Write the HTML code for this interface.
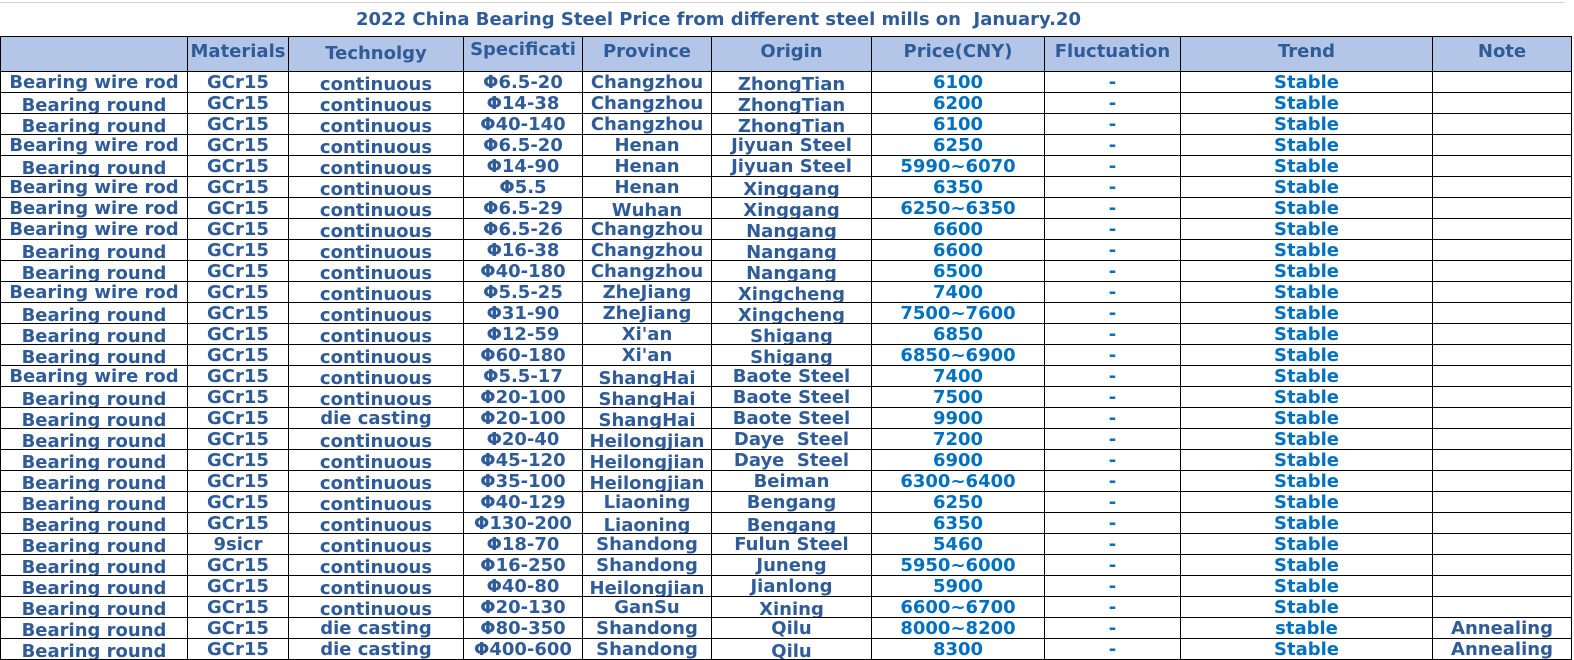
<!DOCTYPE html>
<html><head><meta charset="utf-8"><style>
html,body{margin:0;padding:0;background:#fff;width:1574px;height:660px;overflow:hidden}
body{font-family:"DejaVu Sans","Liberation Sans",sans-serif;font-weight:bold;color:#2f5c98}
.title{position:absolute;left:0;top:2px;width:1565px;height:34px;border-top:1px solid #d4d4d4;font-size:18px;line-height:34px}
.title span{position:absolute;left:356px;top:0}
table{position:absolute;left:0;top:36px;border-collapse:collapse;table-layout:fixed}
td{border:1.5px solid #000;padding:0;text-align:center;font-size:18px;white-space:nowrap;overflow:hidden}
tr.h td{background:#b4c6e7;height:21px;vertical-align:top;line-height:30px}
tr.r td{height:20.03px}
td div{height:20px;overflow:hidden;line-height:22px}
td.p,td.t{color:#0070c0}
td.low div{line-height:25px}
</style></head><body>
<div class="title"><span>2022 China Bearing Steel Price from different steel mills on &nbsp;January.20</span></div>
<table>
<colgroup><col style="width:187px"><col style="width:101px"><col style="width:175px"><col style="width:119px"><col style="width:129px"><col style="width:160px"><col style="width:173px"><col style="width:136px"><col style="width:252px"><col style="width:139px"></colgroup>
<tr class="h"><td></td><td>Materials</td><td style="line-height:34px">Technolgy</td><td style="line-height:26px">Specificati</td><td>Province</td><td>Origin</td><td>Price(CNY)</td><td>Fluctuation</td><td>Trend</td><td>Note</td></tr>
<tr class="r"><td><div>Bearing wire rod</div></td><td><div>GCr15</div></td><td class="low"><div>continuous</div></td><td><div>Φ6.5-20</div></td><td><div>Changzhou</div></td><td class="low"><div>ZhongTian</div></td><td class="p"><div>6100</div></td><td class="p"><div>-</div></td><td class="t"><div>Stable</div></td><td></td></tr>
<tr class="r"><td class="low"><div>Bearing round</div></td><td><div>GCr15</div></td><td class="low"><div>continuous</div></td><td><div>Φ14-38</div></td><td><div>Changzhou</div></td><td class="low"><div>ZhongTian</div></td><td class="p"><div>6200</div></td><td class="p"><div>-</div></td><td class="t"><div>Stable</div></td><td></td></tr>
<tr class="r"><td class="low"><div>Bearing round</div></td><td><div>GCr15</div></td><td class="low"><div>continuous</div></td><td><div>Φ40-140</div></td><td><div>Changzhou</div></td><td class="low"><div>ZhongTian</div></td><td class="p"><div>6100</div></td><td class="p"><div>-</div></td><td class="t"><div>Stable</div></td><td></td></tr>
<tr class="r"><td><div>Bearing wire rod</div></td><td><div>GCr15</div></td><td class="low"><div>continuous</div></td><td><div>Φ6.5-20</div></td><td><div>Henan</div></td><td><div>Jiyuan Steel</div></td><td class="p"><div>6250</div></td><td class="p"><div>-</div></td><td class="t"><div>Stable</div></td><td></td></tr>
<tr class="r"><td class="low"><div>Bearing round</div></td><td><div>GCr15</div></td><td class="low"><div>continuous</div></td><td><div>Φ14-90</div></td><td><div>Henan</div></td><td><div>Jiyuan Steel</div></td><td class="p"><div>5990~6070</div></td><td class="p"><div>-</div></td><td class="t"><div>Stable</div></td><td></td></tr>
<tr class="r"><td><div>Bearing wire rod</div></td><td><div>GCr15</div></td><td class="low"><div>continuous</div></td><td><div>Φ5.5</div></td><td><div>Henan</div></td><td class="low"><div>Xinggang</div></td><td class="p"><div>6350</div></td><td class="p"><div>-</div></td><td class="t"><div>Stable</div></td><td></td></tr>
<tr class="r"><td><div>Bearing wire rod</div></td><td><div>GCr15</div></td><td class="low"><div>continuous</div></td><td><div>Φ6.5-29</div></td><td class="low"><div>Wuhan</div></td><td class="low"><div>Xinggang</div></td><td class="p"><div>6250~6350</div></td><td class="p"><div>-</div></td><td class="t"><div>Stable</div></td><td></td></tr>
<tr class="r"><td><div>Bearing wire rod</div></td><td><div>GCr15</div></td><td class="low"><div>continuous</div></td><td><div>Φ6.5-26</div></td><td><div>Changzhou</div></td><td class="low"><div>Nangang</div></td><td class="p"><div>6600</div></td><td class="p"><div>-</div></td><td class="t"><div>Stable</div></td><td></td></tr>
<tr class="r"><td class="low"><div>Bearing round</div></td><td><div>GCr15</div></td><td class="low"><div>continuous</div></td><td><div>Φ16-38</div></td><td><div>Changzhou</div></td><td class="low"><div>Nangang</div></td><td class="p"><div>6600</div></td><td class="p"><div>-</div></td><td class="t"><div>Stable</div></td><td></td></tr>
<tr class="r"><td class="low"><div>Bearing round</div></td><td><div>GCr15</div></td><td class="low"><div>continuous</div></td><td><div>Φ40-180</div></td><td><div>Changzhou</div></td><td class="low"><div>Nangang</div></td><td class="p"><div>6500</div></td><td class="p"><div>-</div></td><td class="t"><div>Stable</div></td><td></td></tr>
<tr class="r"><td><div>Bearing wire rod</div></td><td><div>GCr15</div></td><td class="low"><div>continuous</div></td><td><div>Φ5.5-25</div></td><td><div>ZheJiang</div></td><td class="low"><div>Xingcheng</div></td><td class="p"><div>7400</div></td><td class="p"><div>-</div></td><td class="t"><div>Stable</div></td><td></td></tr>
<tr class="r"><td class="low"><div>Bearing round</div></td><td><div>GCr15</div></td><td class="low"><div>continuous</div></td><td><div>Φ31-90</div></td><td><div>ZheJiang</div></td><td class="low"><div>Xingcheng</div></td><td class="p"><div>7500~7600</div></td><td class="p"><div>-</div></td><td class="t"><div>Stable</div></td><td></td></tr>
<tr class="r"><td class="low"><div>Bearing round</div></td><td><div>GCr15</div></td><td class="low"><div>continuous</div></td><td><div>Φ12-59</div></td><td><div>Xi'an</div></td><td class="low"><div>Shigang</div></td><td class="p"><div>6850</div></td><td class="p"><div>-</div></td><td class="t"><div>Stable</div></td><td></td></tr>
<tr class="r"><td class="low"><div>Bearing round</div></td><td><div>GCr15</div></td><td class="low"><div>continuous</div></td><td><div>Φ60-180</div></td><td><div>Xi'an</div></td><td class="low"><div>Shigang</div></td><td class="p"><div>6850~6900</div></td><td class="p"><div>-</div></td><td class="t"><div>Stable</div></td><td></td></tr>
<tr class="r"><td><div>Bearing wire rod</div></td><td><div>GCr15</div></td><td class="low"><div>continuous</div></td><td><div>Φ5.5-17</div></td><td class="low"><div>ShangHai</div></td><td><div>Baote Steel</div></td><td class="p"><div>7400</div></td><td class="p"><div>-</div></td><td class="t"><div>Stable</div></td><td></td></tr>
<tr class="r"><td class="low"><div>Bearing round</div></td><td><div>GCr15</div></td><td class="low"><div>continuous</div></td><td><div>Φ20-100</div></td><td class="low"><div>ShangHai</div></td><td><div>Baote Steel</div></td><td class="p"><div>7500</div></td><td class="p"><div>-</div></td><td class="t"><div>Stable</div></td><td></td></tr>
<tr class="r"><td class="low"><div>Bearing round</div></td><td><div>GCr15</div></td><td><div>die casting</div></td><td><div>Φ20-100</div></td><td class="low"><div>ShangHai</div></td><td><div>Baote Steel</div></td><td class="p"><div>9900</div></td><td class="p"><div>-</div></td><td class="t"><div>Stable</div></td><td></td></tr>
<tr class="r"><td class="low"><div>Bearing round</div></td><td><div>GCr15</div></td><td class="low"><div>continuous</div></td><td><div>Φ20-40</div></td><td class="low"><div>Heilongjian</div></td><td><div>Daye &nbsp;Steel</div></td><td class="p"><div>7200</div></td><td class="p"><div>-</div></td><td class="t"><div>Stable</div></td><td></td></tr>
<tr class="r"><td class="low"><div>Bearing round</div></td><td><div>GCr15</div></td><td class="low"><div>continuous</div></td><td><div>Φ45-120</div></td><td class="low"><div>Heilongjian</div></td><td><div>Daye &nbsp;Steel</div></td><td class="p"><div>6900</div></td><td class="p"><div>-</div></td><td class="t"><div>Stable</div></td><td></td></tr>
<tr class="r"><td class="low"><div>Bearing round</div></td><td><div>GCr15</div></td><td class="low"><div>continuous</div></td><td><div>Φ35-100</div></td><td class="low"><div>Heilongjian</div></td><td><div>Beiman</div></td><td class="p"><div>6300~6400</div></td><td class="p"><div>-</div></td><td class="t"><div>Stable</div></td><td></td></tr>
<tr class="r"><td class="low"><div>Bearing round</div></td><td><div>GCr15</div></td><td class="low"><div>continuous</div></td><td><div>Φ40-129</div></td><td><div>Liaoning</div></td><td><div>Bengang</div></td><td class="p"><div>6250</div></td><td class="p"><div>-</div></td><td class="t"><div>Stable</div></td><td></td></tr>
<tr class="r"><td class="low"><div>Bearing round</div></td><td><div>GCr15</div></td><td class="low"><div>continuous</div></td><td><div>Φ130-200</div></td><td class="low"><div>Liaoning</div></td><td class="low"><div>Bengang</div></td><td class="p"><div>6350</div></td><td class="p"><div>-</div></td><td class="t"><div>Stable</div></td><td></td></tr>
<tr class="r"><td class="low"><div>Bearing round</div></td><td><div>9sicr</div></td><td class="low"><div>continuous</div></td><td><div>Φ18-70</div></td><td><div>Shandong</div></td><td><div>Fulun Steel</div></td><td class="p"><div>5460</div></td><td class="p"><div>-</div></td><td class="t"><div>Stable</div></td><td></td></tr>
<tr class="r"><td class="low"><div>Bearing round</div></td><td><div>GCr15</div></td><td class="low"><div>continuous</div></td><td><div>Φ16-250</div></td><td><div>Shandong</div></td><td><div>Juneng</div></td><td class="p"><div>5950~6000</div></td><td class="p"><div>-</div></td><td class="t"><div>Stable</div></td><td></td></tr>
<tr class="r"><td class="low"><div>Bearing round</div></td><td><div>GCr15</div></td><td class="low"><div>continuous</div></td><td><div>Φ40-80</div></td><td class="low"><div>Heilongjian</div></td><td><div>Jianlong</div></td><td class="p"><div>5900</div></td><td class="p"><div>-</div></td><td class="t"><div>Stable</div></td><td></td></tr>
<tr class="r"><td class="low"><div>Bearing round</div></td><td><div>GCr15</div></td><td class="low"><div>continuous</div></td><td><div>Φ20-130</div></td><td><div>GanSu</div></td><td class="low"><div>Xining</div></td><td class="p"><div>6600~6700</div></td><td class="p"><div>-</div></td><td class="t"><div>Stable</div></td><td></td></tr>
<tr class="r"><td class="low"><div>Bearing round</div></td><td><div>GCr15</div></td><td><div>die casting</div></td><td><div>Φ80-350</div></td><td><div>Shandong</div></td><td><div>Qilu</div></td><td class="p"><div>8000~8200</div></td><td class="p"><div>-</div></td><td class="t"><div>stable</div></td><td><div>Annealing</div></td></tr>
<tr class="r"><td class="low"><div>Bearing round</div></td><td><div>GCr15</div></td><td><div>die casting</div></td><td><div>Φ400-600</div></td><td><div>Shandong</div></td><td class="low"><div>Qilu</div></td><td class="p"><div>8300</div></td><td class="p"><div>-</div></td><td class="t"><div>Stable</div></td><td><div>Annealing</div></td></tr>
</table>
</body></html>
